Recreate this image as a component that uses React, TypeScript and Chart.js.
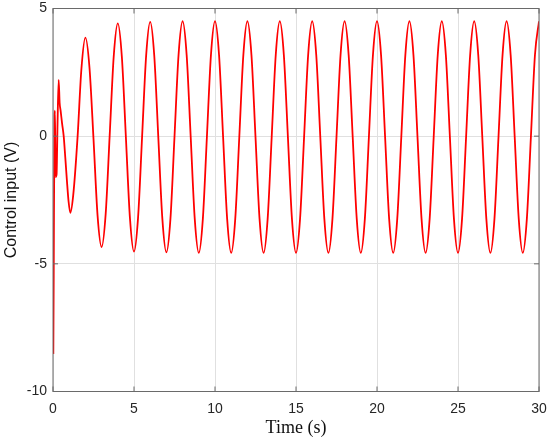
import React, { useEffect, useRef } from "react";
import { Chart, registerables } from "chart.js";

Chart.register(...registerables);

// Time samples (s)
const timeS: number[] = [
  0, 0.02, 0.06, 0.1, 0.12, 0.16, 0.22, 0.28, 0.35, 0.41, 0.47, 0.56, 0.66, 0.76, 0.86, 0.96, 1.07, 1.25, 1.52, 1.75,
  2, 2.25, 2.5, 2.75, 3, 3.25, 3.5, 3.75,
  4, 4.25, 4.5, 4.75, 5, 5.25, 5.5, 5.75,
  6, 6.25, 6.5, 6.75, 7, 7.25, 7.5, 7.75,
  8, 8.25, 8.5, 8.75, 9, 9.25, 9.5, 9.75,
  10, 10.25, 10.5, 10.75, 11, 11.25, 11.5, 11.75,
  12, 12.25, 12.5, 12.75, 13, 13.25, 13.5, 13.75,
  14, 14.25, 14.5, 14.75, 15, 15.25, 15.5, 15.75,
  16, 16.25, 16.5, 16.75, 17, 17.25, 17.5, 17.75,
  18, 18.25, 18.5, 18.75, 19, 19.25, 19.5, 19.75,
  20, 20.25, 20.5, 20.75, 21, 21.25, 21.5, 21.75,
  22, 22.25, 22.5, 22.75, 23, 23.25, 23.5, 23.75,
  24, 24.25, 24.5, 24.75, 25, 25.25, 25.5, 25.75,
  26, 26.25, 26.5, 26.75, 27, 27.25, 27.5, 27.75,
  28, 28.25, 28.5, 28.75, 29, 29.25, 29.5, 29.75,
  30,
];

// Control input (V)
const controlV: number[] = [
  -5.9, -8.5, -3.0, 0.8, 1.0, -1.6, -1.5, 0.5, 2.2, 1.3, 1.0, 0.5, 0.0, -0.85, -1.75, -2.55, -3.0, -2.3, 0.0, 2.6,
  3.86, 2.7, -0.1, -3.1, -4.34, -3.06, 0.04, 3.14,
  4.42, 3.11, -0.05, -3.21, -4.52, -3.2, -0.02, 3.16,
  4.48, 3.16, -0.04, -3.23, -4.55, -3.23, -0.02, 3.18,
  4.5, 3.18, -0.03, -3.24, -4.57, -3.24, -0.03, 3.18,
  4.5, 3.18, -0.03, -3.24, -4.57, -3.24, -0.03, 3.18,
  4.5, 3.18, -0.03, -3.24, -4.57, -3.24, -0.03, 3.18,
  4.5, 3.18, -0.03, -3.24, -4.57, -3.24, -0.03, 3.18,
  4.5, 3.18, -0.03, -3.24, -4.57, -3.24, -0.03, 3.18,
  4.5, 3.18, -0.03, -3.24, -4.57, -3.24, -0.03, 3.18,
  4.5, 3.18, -0.03, -3.24, -4.57, -3.24, -0.03, 3.18,
  4.5, 3.18, -0.03, -3.24, -4.57, -3.24, -0.03, 3.18,
  4.5, 3.18, -0.03, -3.24, -4.57, -3.24, -0.03, 3.18,
  4.5, 3.18, -0.03, -3.24, -4.57, -3.24, -0.03, 3.18,
  4.5, 3.18, -0.03, -3.24, -4.57, -3.24, -0.03, 3.18,
  4.5,
];

const xTicks: number[] = [0, 5, 10, 15, 20, 25, 30];
const yTicks: number[] = [-10, -5, 0, 5];

const boxPlugin = {
  id: "matlabBox",
  afterDatasetsDraw(chart: any) {
    const { ctx, chartArea, scales } = chart;
    const { left, right, top, bottom } = chartArea;
    const x = scales.x;
    const y = scales.y;
    ctx.save();
    ctx.strokeStyle = "#6a6a6a";
    ctx.lineWidth = 1;
    ctx.strokeRect(left, top, right - left, bottom - top);
    const tl = 5;
    ctx.beginPath();
    for (const v of xTicks) {
      const px = x.getPixelForValue(v);
      ctx.moveTo(px, bottom);
      ctx.lineTo(px, bottom - tl);
      ctx.moveTo(px, top);
      ctx.lineTo(px, top + tl);
    }
    for (const v of yTicks) {
      const py = y.getPixelForValue(v);
      ctx.moveTo(left, py);
      ctx.lineTo(left + tl, py);
      ctx.moveTo(right, py);
      ctx.lineTo(right - tl, py);
    }
    ctx.stroke();
    ctx.restore();
  },
};

export default function App() {
  const ref = useRef<HTMLCanvasElement | null>(null);

  useEffect(() => {
    document.body.style.margin = "0";
    if (!ref.current) return;
    const points = timeS.map((t, i) => ({ x: t, y: controlV[i] }));
    const chart = new Chart(ref.current, {
      type: "line",
      data: {
        datasets: [
          {
            data: points,
            borderColor: "#ff0000",
            borderWidth: 1.8,
            pointRadius: 0,
            fill: false,
            cubicInterpolationMode: "monotone",
          },
        ],
      },
      options: {
        animation: false,
        responsive: false,
        devicePixelRatio: 1,
        layout: { padding: { top: 8.5, right: 11, left: 0, bottom: 0 } },
        plugins: { legend: { display: false }, tooltip: { enabled: false } },
        scales: {
          x: {
            type: "linear",
            min: 0,
            max: 30,
            afterBuildTicks: (s: any) => {
              s.ticks = xTicks.map((v) => ({ value: v }));
            },
            afterFit: (s: any) => {
              s.height = 50.5;
              s.paddingLeft = 0;
              s.paddingRight = 0;
              s.paddingTop = 0;
              s.paddingBottom = 0;
            },
            ticks: {
              font: { family: "'Liberation Sans', Arial, sans-serif", size: 14 },
              color: "#262626",
              padding: 9,
              maxRotation: 0,
            },
            grid: { color: "#e0e0e0", drawTicks: false, lineWidth: 1 },
            border: { display: false },
            title: {
              display: true,
              text: "Time (s)",
              font: { family: "'Liberation Serif', 'DejaVu Serif', serif", size: 18 },
              color: "#111",
              padding: { top: 0, bottom: 2.5 },
            },
          },
          y: {
            type: "linear",
            min: -10,
            max: 5,
            afterBuildTicks: (s: any) => {
              s.ticks = yTicks.map((v) => ({ value: v }));
            },
            afterFit: (s: any) => {
              s.width = 53;
              s.paddingLeft = 0;
              s.paddingRight = 0;
              s.paddingTop = 0;
              s.paddingBottom = 0;
            },
            ticks: {
              font: { family: "'Liberation Sans', Arial, sans-serif", size: 14 },
              color: "#262626",
              padding: 6,
            },
            grid: { color: "#e0e0e0", drawTicks: false, lineWidth: 1 },
            border: { display: false },
            title: {
              display: true,
              text: "Control input (V)",
              font: { family: "'Liberation Sans', Arial, sans-serif", size: 16 },
              color: "#111",
              padding: { top: 1.5, bottom: 0 },
            },
          },
        },
      },
      plugins: [boxPlugin],
    });
    return () => chart.destroy();
  }, []);

  return (
    <div style={{ position: "absolute", left: 0, top: 0, width: 550, height: 442 }}>
      <canvas ref={ref} width={550} height={442} style={{ width: 550, height: 442 }} />
    </div>
  );
}
